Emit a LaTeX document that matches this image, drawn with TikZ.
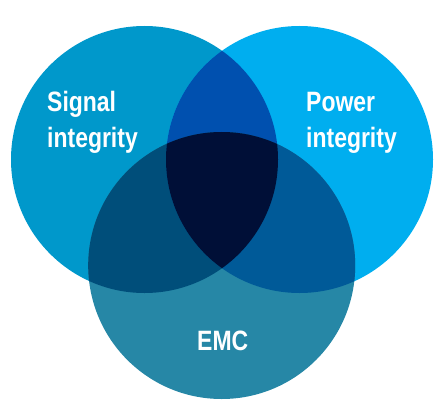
\documentclass[tikz,border=0pt]{standalone}
\usepackage{fontspec}
\usepackage{tikz}
\usetikzlibrary{positioning}
\newfontfamily\lblfont[FakeStretch=0.82]{Liberation Sans}
\definecolor{csig}{HTML}{0098CB}
\definecolor{cpow}{HTML}{00AEEF}
\definecolor{cemc}{HTML}{2687A6}
\definecolor{csigpow}{HTML}{0050AF}
\definecolor{csigemc}{HTML}{004E7A}
\definecolor{cpowemc}{HTML}{005A98}
\definecolor{call}{HTML}{000F37}

\begin{document}
\begin{tikzpicture}[x=1pt,y=-1pt,
  disc/.style={circle,fill=#1,draw=none,minimum size=267pt,inner sep=0pt},
  lbl/.style={text=white,anchor=base west,inner sep=0pt,font=\lblfont\bfseries\fontsize{28}{34}\selectfont}]
  \useasboundingbox (0,0) rectangle (446,414);
  \node[disc=csig] (sig) at (144.5,159.5) {};
  \node[disc=cpow] (pow) at (299.5,159.5) {};
  \node[disc=cemc] (emc) at (221.7,265.5) {};
  % overlaps
  \begin{scope}
    \clip (sig.center) circle[radius=133.5];
    \fill[csigpow] (pow.center) circle[radius=133.5];
    \fill[csigemc] (emc.center) circle[radius=133.5];
  \end{scope}
  \begin{scope}
    \clip (pow.center) circle[radius=133.5];
    \fill[cpowemc] (emc.center) circle[radius=133.5];
    \clip (emc.center) circle[radius=133.5];
    \fill[call] (sig.center) circle[radius=133.5];
  \end{scope}
  \node[lbl] (sigtop) at (47,112) {Signal};
  \node[lbl] (sigbot) at (47,147) {integrity};
  \node[lbl] (powtop) at (306,112) {Power};
  \node[lbl] (powbot) at (306,147) {integrity};
  \node[lbl] (emctxt) at (197,350) {EMC};
\end{tikzpicture}
\end{document}
